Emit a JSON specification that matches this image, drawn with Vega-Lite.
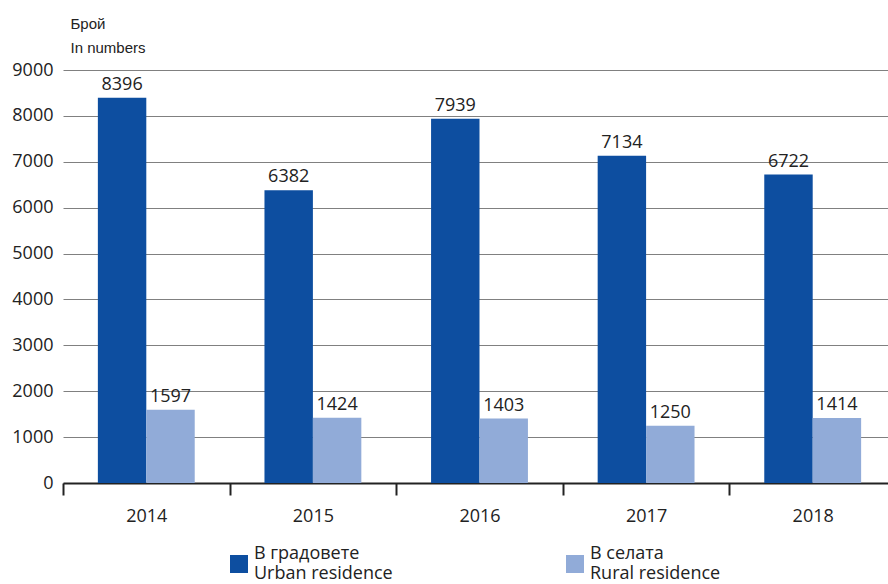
{
  "$schema": "https://vega.github.io/schema/vega-lite/v6.json",
  "width": 833,
  "height": 413,
  "autosize": {"type": "none"},
  "padding": {"left": 63, "top": 70, "right": 0, "bottom": 101},
  "background": "white",
  "config": {"view": {"stroke": null}, "font": "Open Sans"},
  "data": {
    "values": [
      {"year": "2014", "series": "urban", "value": 8396},
      {"year": "2014", "series": "rural", "value": 1597},
      {"year": "2015", "series": "urban", "value": 6382},
      {"year": "2015", "series": "rural", "value": 1424},
      {"year": "2016", "series": "urban", "value": 7939},
      {"year": "2016", "series": "rural", "value": 1403},
      {"year": "2017", "series": "urban", "value": 7134},
      {"year": "2017", "series": "rural", "value": 1250},
      {"year": "2018", "series": "urban", "value": 6722},
      {"year": "2018", "series": "rural", "value": 1414}
    ]
  },
  "encoding": {
    "x": {
      "field": "year",
      "type": "nominal",
      "scale": {"paddingInner": 0, "paddingOuter": 0},
      "axis": {
        "title": null,
        "labelAngle": 0,
        "tickBand": "extent",
        "tickSize": 12,
        "tickWidth": 2,
        "tickColor": "#222222",
        "domainColor": "#222222",
        "domainWidth": 2,
        "labelFontSize": 18,
        "labelColor": "#222222",
        "labelPadding": 12,
        "grid": false
      }
    },
    "xOffset": {
      "field": "series",
      "type": "nominal",
      "sort": ["urban", "rural"],
      "scale": {"paddingInner": 0, "paddingOuter": 0.72}
    },
    "y": {
      "field": "value",
      "type": "quantitative",
      "scale": {"domain": [0, 9000], "nice": false},
      "axis": {
        "values": [0, 1000, 2000, 3000, 4000, 5000, 6000, 7000, 8000, 9000],
        "format": "d",
        "grid": true,
        "gridColor": "#808080",
        "gridWidth": 1,
        "ticks": false,
        "domain": false,
        "labelPadding": 10,
        "labelFontSize": 18,
        "labelColor": "#222222",
        "title": ["Брой", "In numbers"],
        "titleAngle": 0,
        "titleAlign": "left",
        "titleBaseline": "alphabetic",
        "titleX": 7,
        "titleY": -42,
        "titleFont": "Liberation Sans",
        "titleFontSize": 15,
        "titleFontWeight": "normal",
        "titleColor": "#222222",
        "titleLineHeight": 24
      }
    }
  },
  "layer": [
    {
      "mark": {"type": "bar"},
      "encoding": {
        "color": {
          "field": "series",
          "type": "nominal",
          "sort": ["urban", "rural"],
          "scale": {"domain": ["urban", "rural"], "range": ["#0D4EA0", "#91ABD8"]},
          "legend": {
            "title": null,
            "orient": "none",
            "legendX": 167,
            "legendY": 485,
            "direction": "horizontal",
            "padding": 0,
            "symbolType": "square",
            "symbolSize": 324,
            "symbolStrokeWidth": 0,
            "labelFontSize": 18,
            "labelLineHeight": 23,
            "labelColor": "#222222",
            "labelOffset": 6,
            "labelBaseline": "line-bottom",
            "columnPadding": 173,
            "labelExpr": "datum.label == 'urban' ? ['В градовете', 'Urban residence'] : ['В селата', 'Rural residence']"
          }
        }
      }
    },
    {
      "mark": {"type": "text", "baseline": "bottom", "dy": -4, "fontSize": 18, "color": "#222222"},
      "encoding": {"text": {"field": "value", "type": "quantitative", "format": "d"}}
    }
  ]
}
